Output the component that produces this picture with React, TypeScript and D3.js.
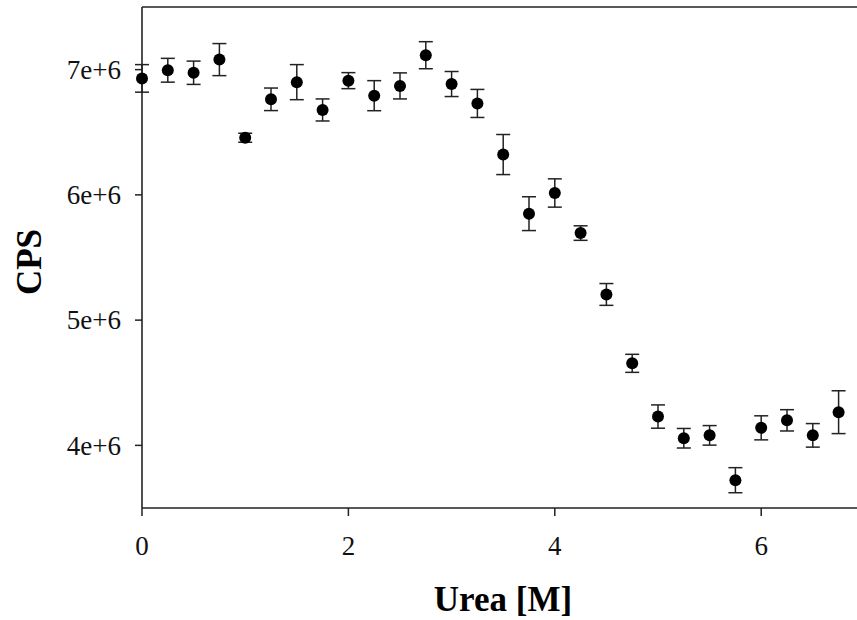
import React from "react";
import * as d3 from "d3";

const ureaM = [0, 0.25, 0.5, 0.75, 1.0, 1.25, 1.5, 1.75, 2.0, 2.25, 2.5, 2.75, 3.0, 3.25, 3.5, 3.75, 4.0, 4.25, 4.5, 4.75, 5.0, 5.25, 5.5, 5.75, 6.0, 6.25, 6.5, 6.75];
const cps = [6.93e6, 6.995e6, 6.975e6, 7.08e6, 6.456e6, 6.763e6, 6.9e6, 6.678e6, 6.912e6, 6.792e6, 6.87e6, 7.115e6, 6.885e6, 6.73e6, 6.322e6, 5.85e6, 6.015e6, 5.695e6, 5.205e6, 4.655e6, 4.23e6, 4.057e6, 4.08e6, 3.722e6, 4.14e6, 4.2e6, 4.08e6, 4.265e6];
const cpsErr = [0.11e6, 0.095e6, 0.093e6, 0.128e6, 0.036e6, 0.09e6, 0.14e6, 0.088e6, 0.064e6, 0.12e6, 0.104e6, 0.108e6, 0.1e6, 0.112e6, 0.16e6, 0.135e6, 0.113e6, 0.058e6, 0.087e6, 0.072e6, 0.093e6, 0.078e6, 0.078e6, 0.1e6, 0.096e6, 0.085e6, 0.094e6, 0.171e6];

const xTicks = [0, 2, 4, 6];
const xTickLabels = ["0", "2", "4", "6"];
const yTicks = [4e6, 5e6, 6e6, 7e6];
const yTickLabels = ["4e+6", "5e+6", "6e+6", "7e+6"];

const W = 857;
const H = 620;
const left = 142;
const top = 7;
const bottom = 508;

export default function App() {
  const x = d3.scaleLinear().domain([0, 7]).range([left, left + 7 * 103.2]);
  const y = d3.scaleLinear().domain([3.5e6, 7.5e6]).range([bottom, top]);
  const font = "'Liberation Serif', 'Times New Roman', serif";
  const cap = 7;
  return (
    <svg
      width={W}
      height={H}
      style={{ position: "fixed", left: 0, top: 0, background: "#fff" }}
      fontFamily={font}
    >
      <rect x={0} y={0} width={W} height={H} fill="#fff" />
      {/* frame */}
      <line x1={left} x2={W} y1={top} y2={top} stroke="#222" strokeWidth={1.6} />
      <line x1={left} x2={W} y1={bottom} y2={bottom} stroke="#222" strokeWidth={1.6} />
      <line x1={left} x2={left} y1={top} y2={bottom} stroke="#222" strokeWidth={1.6} />
      {/* y ticks */}
      {yTicks.map((t, i) => (
        <g key={"y" + i}>
          <line x1={left - 7} x2={left} y1={y(t)} y2={y(t)} stroke="#222" strokeWidth={1.5} />
          <text x={left - 21} y={y(t)} dy="0.34em" textAnchor="end" fontSize={27} fill="#111">
            {yTickLabels[i]}
          </text>
        </g>
      ))}
      {/* x ticks */}
      {xTicks.map((t, i) => (
        <g key={"x" + i}>
          <line x1={x(t)} x2={x(t)} y1={bottom} y2={bottom + 8} stroke="#222" strokeWidth={1.5} />
          <text x={x(t)} y={555} textAnchor="middle" fontSize={27} fill="#111">
            {xTickLabels[i]}
          </text>
        </g>
      ))}
      {/* error bars */}
      {ureaM.map((u, i) => {
        const cx = x(u);
        const y1 = y(cps[i] + cpsErr[i]);
        const y2 = y(cps[i] - cpsErr[i]);
        return (
          <g key={"e" + i} stroke="#222" strokeWidth={1.5}>
            <line x1={cx} x2={cx} y1={y1} y2={y2} />
            <line x1={cx - cap} x2={cx + cap} y1={y1} y2={y1} />
            <line x1={cx - cap} x2={cx + cap} y1={y2} y2={y2} />
          </g>
        );
      })}
      {/* points */}
      {ureaM.map((u, i) => (
        <circle key={"p" + i} cx={x(u)} cy={y(cps[i])} r={6} fill="#000" />
      ))}
      {/* axis titles */}
      <text x={503} y={611} textAnchor="middle" fontSize={35} fontWeight="bold" fill="#000">
        Urea [M]
      </text>
      <text
        transform="translate(41,262) rotate(-90)"
        textAnchor="middle"
        fontSize={35}
        fontWeight="bold"
        fill="#000"
      >
        CPS
      </text>
    </svg>
  );
}
